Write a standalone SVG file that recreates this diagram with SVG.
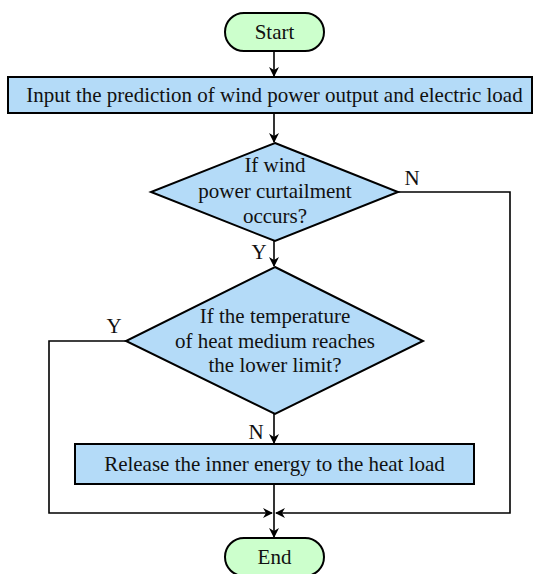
<svg xmlns="http://www.w3.org/2000/svg" width="537" height="574" viewBox="0 0 537 574">
<style>
.t{font-family:"Liberation Serif","Times New Roman",serif;font-size:21px;fill:#111;text-anchor:middle}
.term{fill:#ccffcc;stroke:#000;stroke-width:2}
.proc{fill:#b4dbf8;stroke:#000;stroke-width:2}
.ln{fill:none;stroke:#000;stroke-width:1.6}
</style>
<defs>
<marker id="ah" markerWidth="10" markerHeight="10" refX="9" refY="5" orient="auto" markerUnits="userSpaceOnUse">
<path d="M0,0 L10,5 L0,10 L3,5 Z" fill="#000"/>
</marker>
</defs>
<rect width="537" height="574" fill="#fff"/>
<g id="connectors">
<path class="ln" d="M274,51 V76" marker-end="url(#ah)"/>
<path class="ln" d="M274,113 V142" marker-end="url(#ah)"/>
<path class="ln" d="M274,241 V266" marker-end="url(#ah)"/>
<path class="ln" d="M274,414 V443" marker-end="url(#ah)"/>
<path class="ln" d="M398,192 H510 V513 H276" marker-end="url(#ah)"/>
<path class="ln" d="M126,341 H49 V513 H272" marker-end="url(#ah)"/>
<path class="ln" d="M274,484 V537" marker-end="url(#ah)"/>
<text class="t" x="412" y="185">N</text>
<text class="t" x="259" y="259">Y</text>
<text class="t" x="114" y="333">Y</text>
<text class="t" x="256" y="439">N</text>
</g>
<g id="start">
<rect class="term" x="225" y="13" width="99" height="38" rx="19"/>
<text class="t" x="274.5" y="39">Start</text>
</g>
<g id="input">
<rect class="proc" x="8" y="77" width="524" height="36"/>
<text class="t" x="274.5" y="102">Input the prediction of wind power output and electric load</text>
</g>
<g id="decision1">
<polygon class="proc" points="275,143 398,192 275,241 151,192"/>
<text class="t" x="275" y="172">If wind</text>
<text class="t" x="275" y="198">power curtailment</text>
<text class="t" x="275" y="223">occurs?</text>
</g>
<g id="decision2">
<polygon class="proc" points="275,267 423,341 275,414 126,341"/>
<text class="t" x="275" y="323">If the temperature</text>
<text class="t" x="275" y="348">of heat medium reaches</text>
<text class="t" x="275" y="372">the lower limit?</text>
</g>
<g id="release">
<rect class="proc" x="75" y="444" width="399" height="40"/>
<text class="t" x="274.5" y="471">Release the inner energy to the heat load</text>
</g>
<g id="end">
<rect class="term" x="225" y="538" width="99" height="38" rx="19"/>
<text class="t" x="274.5" y="564">End</text>
</g>
</svg>
